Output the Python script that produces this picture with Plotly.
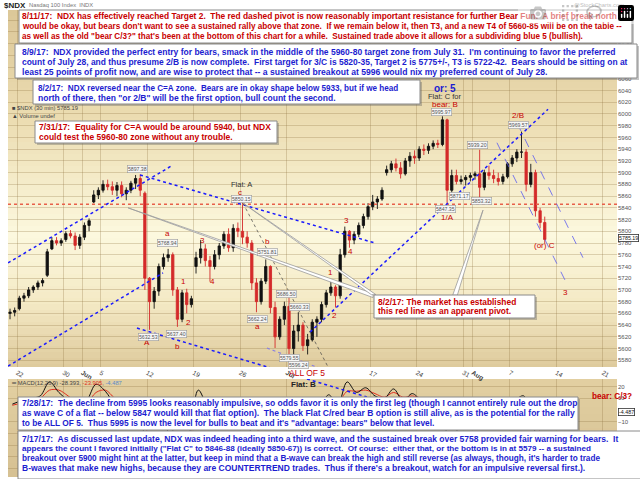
import plotly.graph_objects as go

W, H = 640, 479

# ---------------- data ----------------
sessions = [d + h for d in range(-1, 57) for h in (0.25, 0.75)]   # trading-day index (half-day candles)

opens = [5660, 5662, 5668, 5686, 5690, 5700, 5705, 5712, 5725, 5770,
         5784, 5780, 5786, 5796, 5792, 5776, 5790, 5810, 5850, 5862,
         5870, 5880, 5876, 5870, 5878, 5864, 5870, 5882, 5890, 5865,
         5720, 5680, 5698, 5740, 5755, 5760, 5700, 5650, 5695, 5675,
         5740, 5755, 5770, 5750, 5740, 5760, 5775, 5795, 5772, 5805,
         5800, 5790, 5780, 5712, 5680, 5715, 5740, 5670, 5620, 5650,
         5672, 5600, 5630, 5640, 5605, 5615, 5645, 5650, 5675, 5695,
         5705, 5690, 5760, 5800, 5785, 5795, 5810, 5825, 5842, 5850,
         5855, 5900, 5905, 5915, 5908, 5898, 5920, 5928, 5925, 5940,
         5938, 5945, 5950, 5948, 5990, 5870, 5895, 5885, 5888, 5892,
         5895, 5898, 5875, 5900, 5895, 5890, 5885, 5893, 5915, 5925,
         5935, 5935, 5880, 5900, 5835, 5815]
highs = [5668, 5670, 5690, 5695, 5705, 5708, 5716, 5720, 5770, 5790,
         5790, 5788, 5800, 5802, 5798, 5795, 5815, 5822, 5870, 5875,
         5887, 5888, 5885, 5884, 5885, 5875, 5886, 5896, 5897, 5868,
         5722, 5705, 5745, 5762, 5770, 5764, 5705, 5700, 5702, 5690,
         5765, 5785, 5778, 5758, 5768, 5780, 5800, 5805, 5812, 5815,
         5850, 5800, 5785, 5720, 5720, 5752, 5742, 5680, 5655, 5680,
         5688, 5640, 5662, 5645, 5625, 5650, 5655, 5680, 5700, 5717,
         5708, 5770, 5808, 5802, 5800, 5815, 5830, 5848, 5862, 5860,
         5875, 5912, 5920, 5924, 5918, 5925, 5935, 5938, 5945, 5948,
         5950, 5955, 5956, 5996, 5992, 5905, 5905, 5895, 5896, 5900,
         5902, 5939, 5905, 5912, 5905, 5900, 5898, 5918, 5930, 5940,
         5970, 5940, 5915, 5905, 5840, 5825]
lows = [5650, 5655, 5665, 5680, 5686, 5695, 5700, 5706, 5722, 5768,
        5776, 5775, 5782, 5788, 5768, 5770, 5785, 5800, 5848, 5855,
        5866, 5870, 5862, 5860, 5858, 5853, 5865, 5872, 5860, 5700,
        5632, 5668, 5690, 5735, 5748, 5690, 5637, 5645, 5660, 5670,
        5728, 5745, 5740, 5714, 5735, 5752, 5770, 5765, 5765, 5790,
        5778, 5772, 5700, 5662, 5675, 5710, 5660, 5601, 5615, 5640,
        5580, 5585, 5612, 5596, 5590, 5612, 5620, 5645, 5670, 5690,
        5670, 5685, 5755, 5772, 5778, 5790, 5805, 5820, 5836, 5838,
        5852, 5895, 5900, 5902, 5890, 5895, 5910, 5915, 5920, 5930,
        5932, 5940, 5942, 5945, 5847, 5865, 5880, 5880, 5878, 5885,
        5888, 5858, 5870, 5888, 5882, 5878, 5880, 5890, 5910, 5918,
        5925, 5868, 5875, 5825, 5805, 5780]
closes = [5662, 5665, 5686, 5690, 5700, 5705, 5712, 5716, 5765, 5784,
          5780, 5784, 5796, 5792, 5776, 5790, 5810, 5818, 5862, 5870,
          5880, 5876, 5870, 5878, 5864, 5870, 5882, 5890, 5870, 5720,
          5680, 5698, 5740, 5755, 5760, 5700, 5650, 5695, 5675, 5685,
          5755, 5770, 5750, 5740, 5760, 5775, 5795, 5772, 5805, 5800,
          5790, 5780, 5712, 5680, 5715, 5740, 5670, 5620, 5650, 5672,
          5600, 5630, 5640, 5605, 5615, 5645, 5650, 5675, 5695, 5705,
          5690, 5760, 5800, 5785, 5795, 5810, 5825, 5842, 5850, 5855,
          5870, 5905, 5915, 5908, 5898, 5920, 5928, 5925, 5940, 5938,
          5945, 5950, 5948, 5990, 5870, 5895, 5885, 5888, 5892, 5895,
          5898, 5875, 5900, 5895, 5890, 5885, 5893, 5915, 5925, 5935,
          5935, 5880, 5900, 5835, 5815, 5786]

date_tick_pos = [0, 5, 7, 9, 14, 19, 24, 29, 38, 43, 48, 49, 53, 58, 63]
date_tick_lbl = ["22", "30", "<b>Jun</b>", "5", "12", "19", "26", "<b>Jul</b>",
                 "17", "24", "31", "<b>Aug</b>", "7", "14", "21"]
price_ticks = list(range(5580, 6180, 20))
macd_ticks = [20, 10, -10, -20, -30, -40, -50]

macd_t = [d + 0.5 for d in range(-1, 57)]
macd_vals = [5, 8, 10, 12, 24, 15, 8, 2, 8, 22,
             16, 5, 0, 4, -15, -50, -30, -15, -30, -20,
             17, 5, 8, 9, 8, 5, -30, -20, -35, -30,
             -35, -25, -15, -2, 13, 5, 24, 15, 19, 12,
             10, 18, 8, 14, 8, 5, 9, -30, -15, -8,
             -10, -5, -3, 2, 8, 12, -15, -28.4]
signal_vals = [4, 6, 8, 10, 17, 17, 12, 6, 6, 15,
               17, 10, 4, 3, -6, -30, -32, -22, -25, -22,
               0, 6, 7, 8, 8, 6, -15, -20, -28, -30,
               -32, -28, -20, -8, 6, 6, 16, 16, 17, 14,
               11, 15, 11, 12, 10, 7, 8, -12, -16, -11,
               -10, -7, -4, 0, 5, 9, -5, -23.9]

pivot_price = 5846

# trend lines (t0, p0, t1, p1) in trading-day / price units
blue_lines = [(-0.97, 5570, 15.70, 5729), (-0.97, 5746, 16.77, 5913),
              (13.23, 5896, 38.49, 5780), (12.90, 5635, 37.63, 5518),
              (31.51, 5628, 57.10, 6008)]
thin_blue_lines = [(51.61, 5951, 58.92, 5717), (53.76, 5985, 60.86, 5755)]
purple_line = (26.88, 5601, 35.59, 5548)
black_line = (24.30, 5848, 34.19, 5546)
macd_cross_line = (31.18, 26.5, 37.63, 11.1)
wedges = [[(11.94, 5840), (38.28, 5694), (38.28, 5687)],
          [(24.30, 5848), (38.10, 5692), (38.60, 5692)],
          [(50.11, 5836), (46.85, 5691), (47.35, 5691)]]

wave_labels = [("A", 13.98, 5611), ("a", 16.13, 5797), ("b", 17.31, 5603), ("1", 17.85, 5714),
               ("2", 18.39, 5644), ("3", 20.0, 5785), ("4", 20.97, 5714), ("c", 23.98, 5866),
               ("b", 26.99, 5782), ("a", 25.91, 5637), ("1", 33.66, 5729), ("2", 34.09, 5656),
               ("3", 35.48, 5819), ("4", 35.81, 5765), ("1/A", 46.34, 5824), ("2/B", 53.87, 5997),
               ("(or) C", 56.77, 5775), ("3", 59.03, 5695), ("bear: B", 46.02, 6017)]
dark_labels = [("Flat: A", 24.19, 5879), ("Flat: C for", 46.02, 6029)]
price_tags = [("5897.38", 13.01, 5906), ("5768.94", 16.13, 5780), ("5632.53", 14.09, 5620),
              ("5637.40", 17.20, 5625), ("5850.15", 24.19, 5855), ("5751.81", 26.99, 5765),
              ("5662.24", 25.91, 5650), ("5686.50", 29.03, 5693), ("5660.33", 30.43, 5671),
              ("5579.55", 29.35, 5584), ("5596.24", 30.22, 5572), ("5995.97", 45.70, 6003),
              ("5847.35", 46.13, 5838), ("5939.20", 49.57, 5947), ("5871.17", 47.53, 5860),
              ("5853.32", 50.00, 5852), ("5969.57", 53.98, 5981)]

RED = "#c80000"
BLUE = "#1c1cd0"
FONT = "Liberation Sans, Arial, sans-serif"


def px(x):
    return x / W


def py(y):
    return 1 - y / H


fig = go.Figure()

fig.add_trace(go.Candlestick(
    x=sessions, open=opens, high=highs, low=lows, close=closes,
    increasing=dict(line=dict(color="#111111", width=0.9), fillcolor="#111111"),
    decreasing=dict(line=dict(color="#d42a2a", width=0.9), fillcolor="#d42a2a"),
    whiskerwidth=0, showlegend=False, hoverinfo="skip", xaxis="x", yaxis="y"))

fig.add_trace(go.Scatter(x=macd_t, y=signal_vals, mode="lines", line=dict(color="#e03020", width=1, shape="spline"),
                         showlegend=False, hoverinfo="skip", xaxis="x2", yaxis="y2"))
fig.add_trace(go.Scatter(x=macd_t, y=macd_vals, mode="lines", line=dict(color="#111111", width=1, shape="spline"),
                         showlegend=False, hoverinfo="skip", xaxis="x2", yaxis="y2"))

shapes = []


def lerp(c0, c1, f):
    return tuple(int(round(a + (b - a) * f)) for a, b in zip(c0, c1))


def grad(stops, y):
    for (y0, c0), (y1, c1) in zip(stops, stops[1:]):
        if y0 <= y <= y1:
            return lerp(c0, c1, (y - y0) / (y1 - y0))
    return stops[-1][1]


# background gradients
price_stops = [(10, (220, 199, 152)), (120, (236, 221, 178)), (235, (252, 248, 222)),
               (300, (244, 234, 198)), (367, (222, 202, 156))]
y = 10
while y < 367:
    y2 = min(y + 6, 367)
    c = grad(price_stops, (y + y2) / 2)
    shapes.append(dict(type="rect", xref="paper", yref="paper", x0=px(8), x1=px(617), y0=py(y2), y1=py(y),
                       fillcolor="rgb(%d,%d,%d)" % c, line=dict(width=0), layer="below"))
    y = y2
macd_stops = [(379, (226, 208, 162)), (477, (214, 192, 146))]
y = 379
while y < 477:
    y2 = min(y + 7, 477)
    c = grad(macd_stops, (y + y2) / 2)
    shapes.append(dict(type="rect", xref="paper", yref="paper", x0=px(8), x1=px(617), y0=py(y2), y1=py(y),
                       fillcolor="rgb(%d,%d,%d)" % c, line=dict(width=0), layer="below"))
    y = y2

# pivot
shapes.append(dict(type="line", xref="x domain", yref="y", x0=0, x1=1, y0=pivot_price, y1=pivot_price,
                   line=dict(color="#e8604a", width=1.6, dash="dot"), layer="above"))
for (a, b, c2, d) in blue_lines:
    shapes.append(dict(type="line", xref="x", yref="y", x0=a, y0=b, x1=c2, y1=d,
                       line=dict(color="#1a1aff", width=1.5, dash="dot"), layer="above"))
for (a, b, c2, d) in thin_blue_lines:
    shapes.append(dict(type="line", xref="x", yref="y", x0=a, y0=b, x1=c2, y1=d,
                       line=dict(color="#5a5af0", width=0.8, dash="dash"), layer="above"))
a, b, c2, d = purple_line
shapes.append(dict(type="line", xref="x", yref="y", x0=a, y0=b, x1=c2, y1=d,
                   line=dict(color="#8a80e0", width=1.2, dash="dot"), layer="above"))
a, b, c2, d = black_line
shapes.append(dict(type="line", xref="x", yref="y", x0=a, y0=b, x1=c2, y1=d,
                   line=dict(color="#444444", width=0.7, dash="dot"), layer="above"))
a, b, c2, d = macd_cross_line
shapes.append(dict(type="line", xref="x2", yref="y2", x0=a, y0=b, x1=c2, y1=d,
                   line=dict(color="#1a1aff", width=1.5, dash="dot"), layer="above"))
for wdg in wedges:
    path = "M %f,%f L %f,%f L %f,%f Z" % (wdg[0][0], wdg[0][1], wdg[1][0], wdg[1][1], wdg[2][0], wdg[2][1])
    shapes.append(dict(type="path", xref="x", yref="y", path=path, fillcolor="white",
                       line=dict(color="#9a9a9a", width=0.8), layer="above"))

annotations = []


def box(x0, y0, x1, y1):
    shapes.append(dict(type="rect", xref="paper", yref="paper", x0=px(x0 + 2), x1=px(x1 + 2), y0=py(y1 + 2), y1=py(y0 + 2),
                       fillcolor="rgba(90,90,90,0.35)", line=dict(width=0), layer="above"))
    shapes.append(dict(type="rect", xref="paper", yref="paper", x0=px(x0), x1=px(x1), y0=py(y1), y1=py(y0),
                       fillcolor="white", line=dict(color="#8a8a8a", width=1), layer="above"))


def lines(x, ys, texts, color, sizes):
    for yy, t, s in zip(ys, texts, sizes):
        annotations.append(dict(xref="paper", yref="paper", x=px(x), y=py(yy), xanchor="left", yanchor="middle",
                                text="<b>" + t + "</b>", showarrow=False, font=dict(family=FONT, size=s, color=color)))


box(19, 10, 632, 43)
lines(20, [15.7, 26.3, 36.7], [
    "8/11/17:  NDX has effectively reached Target 2.  The red dashed pivot is now reasonably important resistance for further Bear Fun.  A brief break north",
    "would be okay, but bears don't want to see a sustained rally above that zone.  If we remain below it, then T3, and a new T4 of 5660-85 will be on the table --",
    "as well as the old \"bear C/3?\" that's been at the bottom of this chart for a while.  Sustained trade above it allows for a subdividing blue 5 (bullish)."],
    RED, [8.4, 8.2, 8.15])
box(15, 44, 637, 78)
lines(20, [51.7, 61.7, 71.7], [
    "8/9/17:  NDX provided the perfect entry for bears, smack in the middle of the 5960-80 target zone from July 31.  I'm continuing to favor the preferred",
    "count of July 28, and thus presume 2/B is now complete.  First target for 3/C is 5820-35, Target 2 is 5775+/-, T3 is 5722-42.  Bears should be sitting on at",
    "least 25 points of profit now, and are wise to protect that -- a sustained breakout at 5996 would nix my preferred count of July 28."],
    BLUE, [8.5, 8.45, 8.6])
box(33, 80, 420, 104)
lines(35.5, [88.3, 98.3], [
    "8/2/17:  NDX reversed near the C=A zone.  Bears are in okay shape below 5933, but if we head",
    "north of there, then \"or 2/B\" will be the first option, bull count the second."], BLUE, [8.15, 8.5])
box(35, 121, 277, 143)
lines(37, [127.3, 137.3], [
    "7/31/17:  Equality for C=A would be around 5940, but NDX",
    "could test the 5960-80 zone without any trouble."], RED, [8.5, 8.5])
box(374, 295, 535, 318)
lines(376, [301.7, 311], [
    "8/2/17: The market has established",
    "this red line as an apparent pivot."], RED, [8.4, 8.4])
box(18, 397, 578, 430)
lines(20, [403.3, 413.3, 423.3], [
    "7/28/17:  The decline from 5995 looks reasonably impulsive, so odds favor it is only the first leg (though I cannot entirely rule out the drop",
    "as wave C of a flat -- below 5847 would kill that flat option).  The black Flat C/red bear B option is still alive, as is the potential for the rally",
    "to be ALL OF 5.  Thus 5995 is now the level for bulls to beat and it's \"advantage: bears\" below that level."],
    BLUE, [8.5, 8.5, 8.35])
box(18, 431, 645, 479)
lines(20, [439, 448.7, 458.3, 468.3], [
    "7/17/17:  As discussed last update, NDX was indeed heading into a third wave, and the sustained break over 5758 provided fair warning for bears.  It",
    "appears the count I favored initially (\"Flat C\" to 5846-88 (ideally 5850-67)) is correct.  Of course:  either that, or the bottom is in at 5579 -- a sustained",
    "breakout over 5900 might hint at the latter, but keep in mind that a B-wave can break the high and still reverse (as always, though, it's harder to trade",
    "B-waves that make new highs, because they are COUNTERTREND trades.  Thus if there's a breakout, watch for an impulsive reversal first.)."],
    BLUE, [8.5, 8.1, 8.2, 8.5])

# chart labels
for txt, tx, ty in wave_labels:
    annotations.append(dict(xref="x", yref="y", x=tx, y=ty, text=txt, showarrow=False,
                            font=dict(family=FONT, size=8, color=RED)))
for txt, tx, ty in dark_labels:
    annotations.append(dict(xref="x", yref="y", x=tx, y=ty, text=txt, showarrow=False,
                            font=dict(family=FONT, size=7.5, color="#333333")))
annotations.append(dict(xref="x", yref="y", x=46.02, y=6044, text="<b>or: 5</b>", showarrow=False,
                        font=dict(family=FONT, size=10, color=BLUE)))
for txt, tx, ty in price_tags:
    annotations.append(dict(xref="x", yref="y", x=tx, y=ty, text=txt, showarrow=False,
                            font=dict(family=FONT, size=5.2, color="#555555"), bgcolor="#f6f6f6",
                            bordercolor="#9a9a9a", borderwidth=0.6, borderpad=0.3))


def ptext(x, y, text, size, color, anchor="center", bg=None, border=None):
    d = dict(xref="paper", yref="paper", x=px(x), y=py(y), text=text, showarrow=False, xanchor=anchor,
             yanchor="middle", font=dict(family=FONT, size=size, color=color))
    if bg:
        d.update(bgcolor=bg, bordercolor=border, borderwidth=0.8, borderpad=0.3)
    annotations.append(d)


ptext(307, 373, "ALL OF 5", 8.5, RED)
ptext(303, 384, "<b>Flat: B</b>", 8, "#222222")
ptext(612, 396, "<b>bear: C/3?</b>", 8.2, RED)
ptext(2, 5, "<b>$NDX</b>", 8, "#222222", "left")
ptext(27, 5, "Nasdaq 100 Index  INDX", 5.8, "#777777", "left")
ptext(572, 5, "@StockCharts.com", 5.8, "#777777", "left")
ptext(10, 108, "■ $NDX (30 min) 5785.19", 5.8, "#444444", "left")
ptext(10, 116, "▲ Volume undef", 5.8, "#444444", "left")
ptext(9, 383, "═ MACD(12,26,9) -28.393, <span style='color:#e03020'>-23.905</span>, "
              "<span style='color:#5a8ac8'>-4.487</span>", 5.8, "#444444", "left")
ptext(618, 238, "5785.19", 5.3, "#111111", "left", "white", "#333333")
ptext(618, 412, "-4.487", 5.3, "#111111", "left", "white", "#333333")

GRID = "rgba(140,110,60,0.28)"
fig.update_layout(
    width=W, height=H, autosize=False, margin=dict(l=0, r=0, t=0, b=0),
    paper_bgcolor="white", plot_bgcolor="rgba(0,0,0,0)", showlegend=False,
    shapes=shapes, annotations=annotations,
    xaxis=dict(domain=[px(8), px(617)], range=[-0.968, 64.52], anchor="y", tickvals=date_tick_pos,
               ticktext=date_tick_lbl, showgrid=True, gridcolor=GRID, gridwidth=1, zeroline=False,
               showline=False, ticks="", tickfont=dict(family=FONT, size=6.5, color="#444444"),
               rangeslider=dict(visible=False), fixedrange=True),
    yaxis=dict(domain=[py(367), py(10)], range=[5568.6, 6177.3], side="right", anchor="x",
               tickvals=price_ticks, showgrid=True, gridcolor=GRID, zeroline=False, showline=False,
               ticks="", tickfont=dict(family=FONT, size=6, color="#555555"), fixedrange=True),
    xaxis2=dict(domain=[px(8), px(617)], range=[-0.968, 64.52], anchor="y2", tickvals=date_tick_pos,
                showticklabels=False, showgrid=True, gridcolor=GRID, zeroline=False, ticks="",
                fixedrange=True),
    yaxis2=dict(domain=[py(477), py(379)], range=[-57.3, 26.5], side="right", anchor="x2",
                tickvals=macd_ticks, showgrid=True, gridcolor=GRID, zeroline=False, ticks="",
                tickfont=dict(family=FONT, size=6, color="#555555"), fixedrange=True),
)

fig.write_html("out.html", post_script="document.body.style.margin='0';document.body.style.overflow='hidden';")
